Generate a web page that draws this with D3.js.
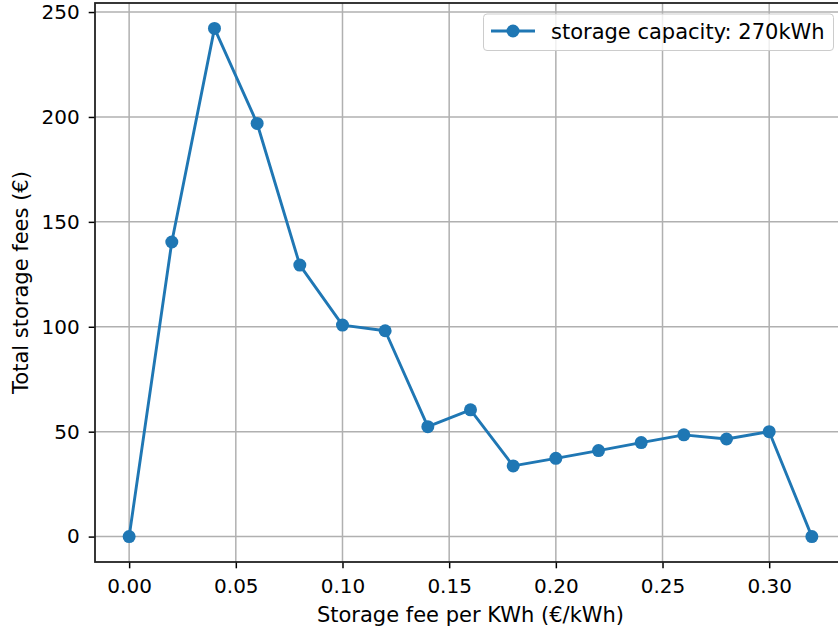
<!DOCTYPE html>
<html>
<head>
<meta charset="utf-8">
<script src="https://cdn.jsdelivr.net/npm/d3@7"></script>
<style>
  body { margin: 0; background: #fff; }
  svg { display: block; font-family: "DejaVu Sans", sans-serif; }
</style>
</head>
<body>
<svg id="chart" width="838" height="632"></svg>
<script>
// fee per kWh (€/kWh) and resulting total storage fees (€)
const fees = [0.00, 0.02, 0.04, 0.06, 0.08, 0.10, 0.12, 0.14, 0.16, 0.18, 0.20, 0.22, 0.24, 0.26, 0.28, 0.30, 0.32];
const totals = [0, 140.4, 242.2, 196.9, 129.4, 100.8, 98.1, 52.4, 60.4, 33.7, 37.3, 41.0, 44.8, 48.5, 46.5, 50.0, 0];
const xTicks = [0.00, 0.05, 0.10, 0.15, 0.20, 0.25, 0.30];
const yTicks = [0, 50, 100, 150, 200, 250];
const seriesLabel = "storage capacity: 270kWh";

const BLUE = "#1f77b4";
const GRID = "#b0b0b0";
const FONT = 21;
const TICK_FONT = 20;

const svg = d3.select("#chart");
const plot = { left: 95, top: 3, right: 846, bottom: 562 };

const x = d3.scaleLinear().domain([-0.016, 0.336]).range([plot.left, plot.right]);
const y = d3.scaleLinear().domain([-12.11, 254.31]).range([plot.bottom, plot.top]);

// grid
const grid = svg.append("g");
grid.selectAll("line.vx")
  .data(xTicks).enter().append("line")
    .attr("x1", d => x(d)).attr("x2", d => x(d))
    .attr("y1", plot.top).attr("y2", plot.bottom)
    .attr("stroke", GRID).attr("stroke-width", 1.5);
grid.selectAll("line.hy")
  .data(yTicks).enter().append("line")
    .attr("y1", d => y(d)).attr("y2", d => y(d))
    .attr("x1", plot.left).attr("x2", plot.right)
    .attr("stroke", GRID).attr("stroke-width", 1.5);

// axes
const xAxis = svg.append("g")
  .attr("transform", `translate(0,${plot.bottom})`)
  .call(d3.axisBottom(x).tickValues(xTicks).tickFormat(d3.format(".2f")).tickSize(6.3).tickPadding(10));
const yAxis = svg.append("g")
  .attr("transform", `translate(${plot.left},0)`)
  .call(d3.axisLeft(y).tickValues(yTicks).tickFormat(d3.format("d")).tickSize(6.3).tickPadding(9));

[xAxis, yAxis].forEach(a => {
  a.select(".domain").remove();
  a.selectAll(".tick line").attr("stroke", "#000").attr("stroke-width", 1.5);
  a.selectAll(".tick text").attr("fill", "#000").style("font-size", TICK_FONT + "px")
    .style("font-family", "DejaVu Sans, sans-serif");
});

// frame
svg.append("rect")
  .attr("x", plot.left).attr("y", plot.top)
  .attr("width", plot.right - plot.left).attr("height", plot.bottom - plot.top)
  .attr("fill", "none").attr("stroke", "#222").attr("stroke-width", 1.8);

// series
const pts = fees.map((f, i) => [f, totals[i]]);
svg.append("path")
  .datum(pts)
  .attr("fill", "none").attr("stroke", BLUE).attr("stroke-width", 2.9)
  .attr("stroke-linejoin", "round")
  .attr("d", d3.line().x(d => x(d[0])).y(d => y(d[1])));
svg.append("g").selectAll("circle")
  .data(pts).enter().append("circle")
    .attr("cx", d => x(d[0])).attr("cy", d => y(d[1]))
    .attr("r", 6.5).attr("fill", BLUE);

// axis labels
svg.append("text")
  .attr("x", (plot.left + plot.right) / 2).attr("y", 621.5)
  .attr("text-anchor", "middle").style("font-size", FONT + "px")
  .text("Storage fee per KWh (€/kWh)");
svg.append("text")
  .attr("transform", `translate(28,${(plot.top + plot.bottom) / 2}) rotate(-90)`)
  .attr("text-anchor", "middle").style("font-size", FONT + "px")
  .text("Total storage fees (€)");

// legend
const lg = svg.append("g");
lg.append("rect")
  .attr("x", 483.5).attr("y", 14).attr("width", 350).attr("height", 36.5)
  .attr("rx", 3.5).attr("fill", "#fff").attr("fill-opacity", 0.8)
  .attr("stroke", "#ccc").attr("stroke-width", 1);
lg.append("line")
  .attr("x1", 491).attr("x2", 535).attr("y1", 31).attr("y2", 31)
  .attr("stroke", BLUE).attr("stroke-width", 2.9);
lg.append("circle").attr("cx", 513).attr("cy", 31).attr("r", 6.5).attr("fill", BLUE);
lg.append("text")
  .attr("x", 551).attr("y", 39).style("font-size", FONT + "px")
  .text(seriesLabel);
</script>
</body>
</html>
